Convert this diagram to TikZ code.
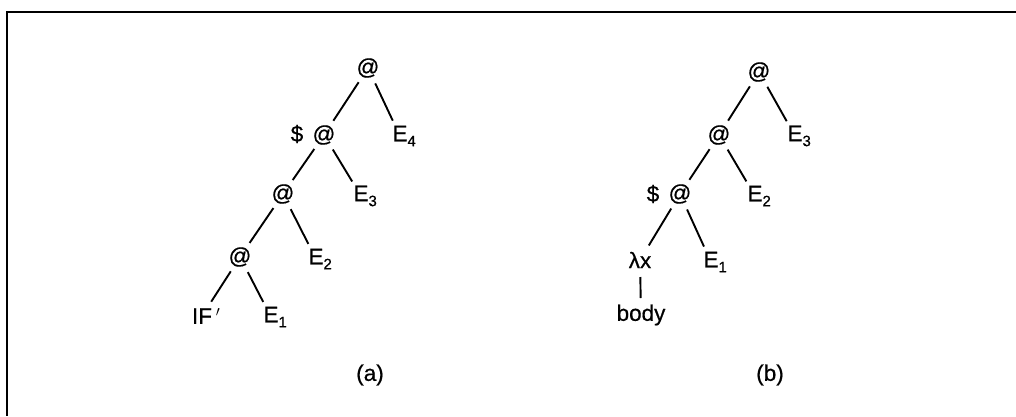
\documentclass[tikz,border=0pt]{standalone}
\usepackage{fontspec}
\setmainfont{Liberation Sans}
\newfontfamily\lblfont[FakeBold=0.6]{Liberation Sans}
\newcommand{\sbx}[1]{\raisebox{-0.22em}{\fontsize{15}{15}\selectfont #1}}
\begin{document}
\begin{tikzpicture}[x=1pt,y=-1pt,
  lbl/.style={font=\lblfont\fontsize{22.5}{25}\selectfont, inner sep=0pt},
  edge/.style={line width=1.9pt, shorten <=17pt, shorten >=17pt},
  frame/.style={line width=2.2pt}]
\useasboundingbox (0,0) rectangle (1016,416);
\coordinate (fTR) at (1016,12);
\coordinate (fTL) at (7,12);
\coordinate (fBL) at (7,416);
\draw[frame] (fTR) -- (fTL) -- (fBL);
% tree (a)
\node[lbl] (ar) at (368,68) {@};
\node[lbl] (a2) at (324,135) {@};
\node[lbl] (a2s) at (297,134) {\$};
\node[lbl] (aE4) at (400,136) {E\rlap{\sbx{4}}};
\node[lbl] (a3) at (283,194) {@};
\node[lbl] (aE3) at (361,196) {E\rlap{\sbx{3}}};
\node[lbl] (a4) at (240,257) {@};
\node[lbl] (aE2) at (316,259) {E\rlap{\sbx{2}}};
\node[lbl] (aIF) at (202,316) {IF\rlap{\,$'$}};
\node[lbl] (aE1) at (271,317) {E\rlap{\sbx{1}}};
\node[lbl] (acap) at (370,375) {(a)};
\draw[edge] (ar.center) -- (a2.center);
\draw[edge] (ar.center) -- (aE4.center);
\draw[edge] (a2.center) -- (a3.center);
\draw[edge] (a2.center) -- (aE3.center);
\draw[edge] (a3.center) -- (a4.center);
\draw[edge] (a3.center) -- (aE2.center);
\draw[edge] (a4.center) -- (aIF.center);
\draw[edge] (a4.center) -- (aE1.center);
% tree (b)
\node[lbl] (br) at (759,72) {@};
\node[lbl] (b2) at (719,135) {@};
\node[lbl] (bE3) at (795,136) {E\rlap{\sbx{3}}};
\node[lbl] (b3) at (680,194) {@};
\node[lbl] (b3s) at (653,194) {\$};
\node[lbl] (bE2) at (755,196) {E\rlap{\sbx{2}}};
\node[lbl] (blam) at (640,260) {λx};
\node[lbl] (bE1) at (711,262) {E\rlap{\sbx{1}}};
\node[lbl] (bbody) at (641,315) {body};
\node[lbl] (bcap) at (770,375) {(b)};
\draw[edge] (br.center) -- (b2.center);
\draw[edge] (br.center) -- (bE3.center);
\draw[edge] (b2.center) -- (b3.center);
\draw[edge] (b2.center) -- (bE2.center);
\draw[edge] (b3.center) -- (blam.center);
\draw[edge] (b3.center) -- (bE1.center);
\draw[edge] (blam.center) -- (bbody.center);
\end{tikzpicture}
\end{document}
